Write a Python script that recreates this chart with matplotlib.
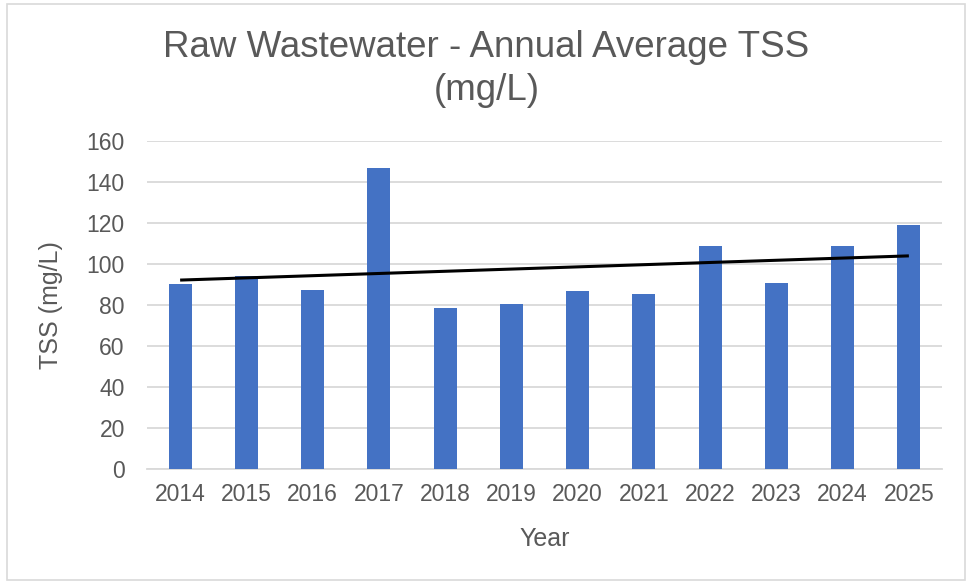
import numpy as np
import matplotlib
matplotlib.use("Agg")
import matplotlib.pyplot as plt
from matplotlib.patches import Rectangle

years = ["2014", "2015", "2016", "2017", "2018", "2019", "2020", "2021", "2022", "2023", "2024", "2025"]
tss = [90.4, 94.1, 87.3, 146.7, 78.5, 80.5, 86.7, 85.5, 108.6, 90.6, 108.6, 119.2]
yticks = [0, 20, 40, 60, 80, 100, 120, 140, 160]

plt.rcParams['font.family'] = ['Liberation Sans', 'DejaVu Sans']

W, H = 973, 583
dpi = 100
fig = plt.figure(figsize=(W / dpi, H / dpi), dpi=dpi)
fig.patch.set_facecolor('white')

# chart border
fig.patches.append(Rectangle((7 / W, 3 / H), (965 - 7) / W, (579 - 3) / H,
                             transform=fig.transFigure, fill=False,
                             edgecolor='#d9d9d9', linewidth=1.2))

left, right = 147 / W, 942 / W
bottom, top = 1 - 469 / H, 1 - 141 / H
ax = fig.add_axes([left, bottom, right - left, top - bottom])

x = np.arange(len(years))
ax.bar(x, tss, width=0.35, color='#4472c4', zorder=3)

# linear trendline
coef = np.polyfit(x, tss, 1)
ax.plot([x[0], x[-1]], np.polyval(coef, [x[0], x[-1]]), color='black',
        linewidth=2.2, zorder=4, solid_capstyle='butt')

ax.set_xlim(-0.5, len(years) - 0.5)
ax.set_ylim(0, 160)
ax.set_yticks(yticks)
ax.set_xticks(x)
ax.set_xticklabels(years)
ax.grid(axis='y', color='#d9d9d9', linewidth=1.3, zorder=0)
for s in ['top', 'right', 'left']:
    ax.spines[s].set_visible(False)
ax.spines['bottom'].set_color('#d9d9d9')
ax.spines['bottom'].set_linewidth(1.3)
ax.tick_params(axis='both', length=0, labelsize=16.5, colors='#595959')
ax.tick_params(axis='y', pad=16)
ax.tick_params(axis='x', pad=10)

ax.set_xlabel('Year', fontsize=18, color='#595959', labelpad=15)
ax.set_ylabel('TSS (mg/L)', fontsize=18, color='#595959', labelpad=17)

fig.text(0.5, 1 - 69 / H, 'Raw Wastewater - Annual Average TSS\n(mg/L)',
         ha='center', va='center', fontsize=26.5, color='#595959',
         linespacing=1.3)

fig.savefig('out.png', dpi=dpi, facecolor='white')
